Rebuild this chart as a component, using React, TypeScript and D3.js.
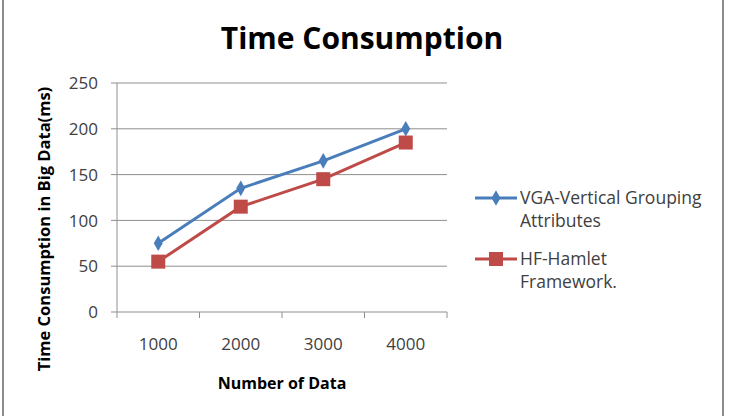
import React from "react";
import * as d3 from "d3";

const categories = ["1000", "2000", "3000", "4000"];
const vgaValues = [75, 135, 165, 200];
const hfValues = [55, 115, 145, 185];
const yTicks = [0, 50, 100, 150, 200, 250];
const seriesNames = [
  ["VGA-Vertical Grouping", "Attributes"],
  ["HF-Hamlet", "Framework."],
];

const W = 732;
const H = 416;
const plot = { left: 117, right: 447, top: 83, bottom: 312 };
const FONT = "'Open Sans', 'Liberation Sans', sans-serif";
const BLUE = "#4A7EBB";
const RED = "#BE4B48";

export default function App() {
  const x = d3
    .scaleBand<string>()
    .domain(categories)
    .range([plot.left, plot.right])
    .paddingInner(0)
    .paddingOuter(0);
  const y = d3.scaleLinear().domain([0, 250]).range([plot.bottom, plot.top]);
  const cx = (c: string) => (x(c) ?? 0) + x.bandwidth() / 2;

  const line = d3
    .line<number>()
    .x((_, i) => cx(categories[i]))
    .y((d) => y(d));

  const boundaries = [...categories.map((c) => x(c) ?? 0), plot.right];
  const diamond = d3.symbol(d3.symbolDiamond, 70)();

  return (
    <svg
      width={W}
      height={H}
      style={{ position: "absolute", left: 0, top: 0, background: "#fff" }}
      fontFamily={FONT}
    >
      <rect x={0} y={0} width={W} height={H} fill="#fff" />
      {/* frame sides */}
      <line x1={3} x2={3} y1={0} y2={H} stroke="#8c8c8c" strokeWidth={2} />
      <line x1={723} x2={723} y1={0} y2={H} stroke="#8c8c8c" strokeWidth={2} />

      <text x={362} y={49} textAnchor="middle" fontSize={30} fontWeight="bold" fill="#000">
        Time Consumption
      </text>

      {/* gridlines and y ticks */}
      {yTicks.map((t) => (
        <g key={t}>
          <line
            x1={plot.left - 6}
            x2={plot.right}
            y1={y(t)}
            y2={y(t)}
            stroke="#8f8f8f"
            strokeWidth={1}
          />
          <text
            x={98}
            y={y(t)}
            dy="0.36em"
            textAnchor="end"
            fontSize={17}
            fill="#404040"
          >
            {t}
          </text>
        </g>
      ))}
      <line x1={plot.left} x2={plot.left} y1={plot.top} y2={plot.bottom} stroke="#8f8f8f" />
      {boundaries.map((b, i) => (
        <line key={i} x1={b} x2={b} y1={plot.bottom} y2={plot.bottom + 6} stroke="#8f8f8f" />
      ))}
      {categories.map((c) => (
        <text key={c} x={cx(c)} y={350} textAnchor="middle" fontSize={17} fill="#404040">
          {c}
        </text>
      ))}

      <text x={282} y={389} textAnchor="middle" fontSize={16} fontWeight="bold" fill="#000">
        Number of Data
      </text>
      <text
        transform={`translate(50,${(plot.top + 375) / 2}) rotate(-90)`}
        textAnchor="middle"
        fontSize={16.5}
        fontWeight="bold"
        fill="#000"
      >
        Time Consumption in Big Data(ms)
      </text>

      {/* series */}
      <path d={line(vgaValues) ?? ""} fill="none" stroke={BLUE} strokeWidth={3} />
      <path d={line(hfValues) ?? ""} fill="none" stroke={RED} strokeWidth={3} />
      {vgaValues.map((v, i) => (
        <path
          key={"v" + i}
          d={diamond ?? ""}
          transform={`translate(${cx(categories[i])},${y(v)})`}
          fill={BLUE}
        />
      ))}
      {hfValues.map((v, i) => (
        <rect
          key={"h" + i}
          x={cx(categories[i]) - 7}
          y={y(v) - 7}
          width={14}
          height={14}
          fill={RED}
        />
      ))}

      {/* legend */}
      {[BLUE, RED].map((color, k) => {
        const ly = k === 0 ? 198 : 259;
        return (
          <g key={k}>
            <line x1={475} x2={517} y1={ly} y2={ly} stroke={color} strokeWidth={3} />
            {k === 0 ? (
              <path d={diamond ?? ""} transform={`translate(496,${ly})`} fill={color} />
            ) : (
              <rect x={489} y={ly - 7} width={14} height={14} fill={color} />
            )}
            {seriesNames[k].map((s, j) => (
              <text
                key={j}
                x={520}
                y={ly + j * 23}
                dy="0.36em"
                fontSize={17.5}
                fill="#404040"
              >
                {s}
              </text>
            ))}
          </g>
        );
      })}
    </svg>
  );
}
